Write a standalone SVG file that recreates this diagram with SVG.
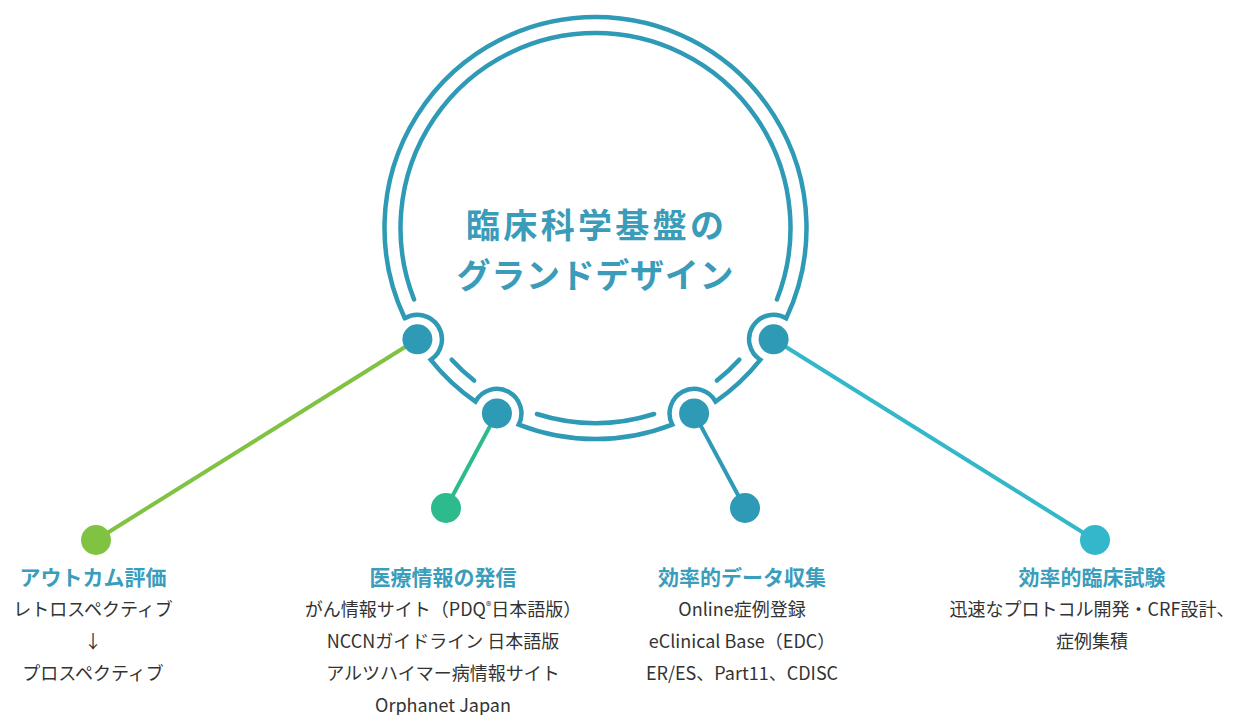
<svg xmlns="http://www.w3.org/2000/svg" width="1233" height="715" viewBox="0 0 1233 715">
<style>
  .ring{fill:none;stroke:#2e9ab6;stroke-width:4.5;stroke-linecap:round;stroke-linejoin:miter}
  .hub{fill:#2e9ab6}
  .title{font-family:"Noto Sans CJK JP","Noto Sans CJK SC",sans-serif;font-weight:700;font-size:34px;fill:#3a9cb9;text-anchor:middle}
  .head{font-family:"Noto Sans CJK JP","Noto Sans CJK SC",sans-serif;font-weight:700;font-size:21px;fill:#3a9dbb;text-anchor:middle}
  .body{font-family:"Noto Sans CJK JP","Noto Sans CJK SC",sans-serif;font-size:18px;fill:#333333;text-anchor:middle}
  .conn{fill:none;stroke-width:4}
</style>
<rect width="1233" height="715" fill="#ffffff"/>

<g id="connectors">
  <line class="conn" x1="417.41" y1="339.28" x2="96" y2="540" stroke="#80c242"/>
  <line class="conn" x1="496.91" y1="413.42" x2="446" y2="508" stroke="#2dbb8e"/>
  <line class="conn" x1="694.09" y1="413.42" x2="745" y2="508" stroke="#2e9ab6"/>
  <line class="conn" x1="773.59" y1="339.28" x2="1095" y2="540" stroke="#33b8cb"/>
</g>

<g id="frame">
  <path class="ring" d="M404.78 318.27 A211 211 0 1 1 786.22 318.27
    A24.5 24.5 0 0 0 752.81 326.30 A24.5 24.5 0 0 0 760.24 359.84
    A211 211 0 0 1 715.53 401.54
    A24.5 24.5 0 0 0 682.59 391.79 A24.5 24.5 0 0 0 672.25 424.55
    A211 211 0 0 1 518.75 424.55
    A24.5 24.5 0 0 0 508.41 391.79 A24.5 24.5 0 0 0 475.47 401.54
    A211 211 0 0 1 430.76 359.84
    A24.5 24.5 0 0 0 438.19 326.30 A24.5 24.5 0 0 0 404.78 318.27"/>
  <path class="ring" d="M414.07 299.47 A195 195 0 1 1 776.93 299.47"/>
  <path class="ring" d="M474.11 380.61 A195 195 0 0 1 451.73 359.74"/>
  <path class="ring" d="M739.27 359.74 A195 195 0 0 1 716.89 380.61"/>
  <path class="ring" d="M654.14 413.98 A195 195 0 0 1 536.86 413.98"/>
</g>

<g id="title">
  <text class="title" x="595" y="238" textLength="258" lengthAdjust="spacing">臨床科学基盤の</text>
  <text class="title" x="595" y="288" textLength="277" lengthAdjust="spacing">グランドデザイン</text>
</g>

<g id="hub-1"><circle class="hub" cx="417.41" cy="339.28" r="15"/></g>
<g id="hub-2"><circle class="hub" cx="496.91" cy="413.42" r="15"/></g>
<g id="hub-3"><circle class="hub" cx="694.09" cy="413.42" r="15"/></g>
<g id="hub-4"><circle class="hub" cx="773.59" cy="339.28" r="15"/></g>

<g id="node-outcome">
  <circle cx="96" cy="540" r="15" fill="#80c242"/>
  <text class="head" x="93" y="585">アウトカム評価</text>
  <text class="body" x="93" y="616">レトロスペクティブ</text>
  <text class="body" x="93" y="648">↓</text>
  <text class="body" x="93" y="680">プロスペクティブ</text>
</g>

<g id="node-info">
  <circle cx="446" cy="508" r="15" fill="#2dbb8e"/>
  <text class="head" x="443" y="585">医療情報の発信</text>
  <text class="body" x="443" y="616">がん情報サイト（PDQ<tspan font-size="11" baseline-shift="6">®</tspan>日本語版）</text>
  <text class="body" x="443" y="648">NCCNガイドライン 日本語版</text>
  <text class="body" x="443" y="680">アルツハイマー病情報サイト</text>
  <text class="body" x="443" y="712">Orphanet Japan</text>
</g>

<g id="node-data">
  <circle cx="745" cy="508" r="15" fill="#2e9ab6"/>
  <text class="head" x="742" y="585">効率的データ収集</text>
  <text class="body" x="742" y="616">Online症例登録</text>
  <text class="body" x="742" y="648">eClinical Base（EDC）</text>
  <text class="body" x="742" y="680">ER/ES、Part11、CDISC</text>
</g>

<g id="node-trial">
  <circle cx="1095" cy="540" r="15" fill="#33b8cb"/>
  <text class="head" x="1092" y="585">効率的臨床試験</text>
  <text class="body" x="1092" y="616">迅速なプロトコル開発・CRF設計、</text>
  <text class="body" x="1092" y="648">症例集積</text>
</g>
</svg>
